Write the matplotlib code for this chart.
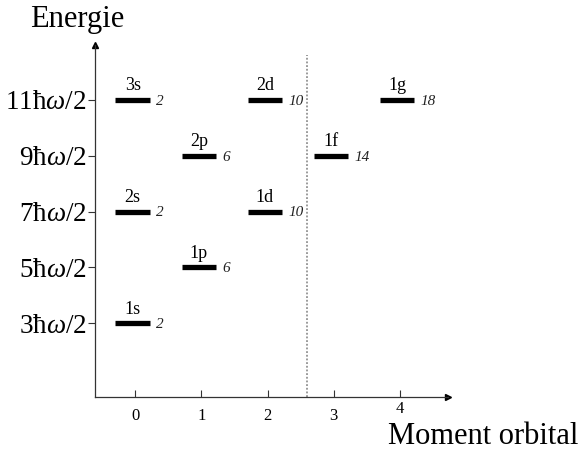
import matplotlib
matplotlib.use("Agg")
import matplotlib.pyplot as plt
from matplotlib.transforms import ScaledTranslation

plt.rcParams['font.family'] = ['Liberation Serif', 'DejaVu Serif']
plt.rcParams['mathtext.fontset'] = 'custom'
plt.rcParams['mathtext.rm'] = 'Liberation Serif'
plt.rcParams['mathtext.it'] = 'Liberation Serif:italic'

# Data
orbitals = ['1s', '1p', '1d', '2s', '1f', '2p', '1g', '2d', '3s']
l_values = [0, 1, 2, 0, 3, 1, 4, 2, 0]
energies = [3, 5, 7, 7, 9, 9, 11, 11, 11]
degeneracy = [2, 6, 10, 2, 14, 6, 18, 10, 2]
x_ticks = [0, 1, 2, 3, 4]
y_ticks = [3, 5, 7, 9, 11]
y_ticklabels = [r'3ħ$\mathit{\omega}$/2', r'5ħ$\mathit{\omega}$/2', r'7ħ$\mathit{\omega}$/2',
                r'9ħ$\mathit{\omega}$/2', r'11ħ$\mathit{\omega}$/2']
divider_l = 2.6

fig = plt.figure(figsize=(5.79, 4.49), dpi=100)
ax = fig.add_axes([95/579, 52/449, (448-95)/579, (397-45)/449])
ax.set_xlim(-0.61, 4.73)
ax.set_ylim(0.36, 12.96)

for s in ['top', 'right']:
    ax.spines[s].set_visible(False)
for s in ['left', 'bottom']:
    ax.spines[s].set_linewidth(0.9)
    ax.spines[s].set_color('#333333')

# arrow heads
ax.plot(1, 0, '>', color='black', markersize=5, transform=ax.transAxes, clip_on=False)
ax.plot(0, 1, '^', color='black', markersize=5, transform=ax.transAxes, clip_on=False)

half = 0.26
off = -0.04
for name, l, e, d in zip(orbitals, l_values, energies, degeneracy):
    c = l + off
    ax.plot([c - half, c + half], [e, e], color='black', lw=3.8, solid_capstyle='butt')
    ax.text(c, e + 0.2, name, ha='center', va='bottom', fontsize=13)
    ax.text(c + half + 0.09, e - 0.05, str(d), ha='left', va='center',
            fontsize=11, style='italic', color='#222222')

ax.plot([divider_l, divider_l], [0.36, 12.6], color='gray', lw=1.1, ls=(0, (1.2, 1.2)))

ax.set_xticks(x_ticks)
ax.set_xticklabels([str(t) for t in x_ticks], fontsize=12)
ax.tick_params(axis='x', direction='in', length=5, width=0.8, pad=8, colors='#333333', labelcolor='black')
lbl4 = ax.get_xticklabels()[4]
lbl4.set_transform(lbl4.get_transform() + ScaledTranslation(0, 7/100, fig.dpi_scale_trans))

ax.set_yticks(y_ticks)
ax.set_yticklabels(y_ticklabels, fontsize=19.5)
ax.tick_params(axis='y', direction='out', length=5, width=0.8, pad=1, colors='#333333', labelcolor='black')

fig.text(30/579, 1 - 20/449, 'Energie', fontsize=22, ha='left', va='center')
fig.text(578/579, 1 - 436/449, 'Moment orbital', fontsize=22, ha='right', va='center')

fig.savefig('out.png', dpi=100)
